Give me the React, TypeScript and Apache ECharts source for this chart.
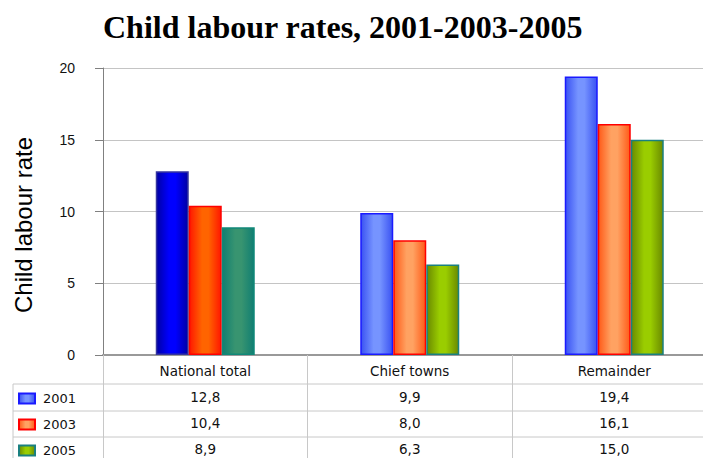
import React, { useEffect, useRef } from "react";
import * as echarts from "echarts";

const categories = ["National total", "Chief towns", "Remainder"];
const years = ["2001", "2003", "2005"];
const values2001 = [12.8, 9.9, 19.4];
const values2003 = [10.4, 8.0, 16.1];
const values2005 = [8.9, 6.3, 15.0];
const yTicks = { min: 0, max: 20, interval: 5 };
const yTitle = "Child labour rate";
const chartTitle = "Child labour rates, 2001-2003-2005";

const grad = (edge: string, mid: string) =>
  new echarts.graphic.LinearGradient(0, 0, 1, 0, [
    { offset: 0, color: edge },
    { offset: 0.4, color: mid },
    { offset: 0.6, color: mid },
    { offset: 1, color: edge },
  ]);

const fmt = (v: number) => v.toFixed(1).replace(".", ",");

export default function App() {
  const ref = useRef<HTMLDivElement>(null);
  useEffect(() => {
    if (!ref.current) return;
    const chart = echarts.init(ref.current, null, { renderer: "svg" });

    const styles = [
      {
        normal: { color: grad("#3a52f2", "#7694ff"), borderColor: "#1a1aff" },
        national: { color: grad("#0000a4", "#0000ff"), borderColor: "#3535a0" },
      },
      {
        normal: { color: grad("#ff5a18", "#ffa262"), borderColor: "#ff0000" },
        national: { color: grad("#ff1800", "#ff6400"), borderColor: "#ff0000" },
      },
      {
        normal: { color: grad("#6a8a00", "#9acd00"), borderColor: "#1a8080" },
        national: { color: grad("#107e72", "#389470"), borderColor: "#108878" },
      },
    ];
    const allValues = [values2001, values2003, values2005];

    const series = years.map((y, si) => ({
      type: "bar",
      name: y,
      barWidth: 33,
      barGap: "0%",
      itemStyle: { ...styles[si].normal, borderWidth: 1.5 },
      data: allValues[si].map((v, i) =>
        i === 0
          ? { value: v, itemStyle: { ...styles[si].national, borderWidth: 1.5 } }
          : v
      ),
    }));

    const lineStyle = { stroke: "#c8c8c8", lineWidth: 1 };
    const tableLines = [384, 411, 437].map((y) => ({
      type: "line",
      shape: { x1: 13, y1: y, x2: 703, y2: y },
      style: lineStyle,
      silent: true,
    }));

    chart.setOption({
      animation: false,
      backgroundColor: "#ffffff",
      title: {
        text: chartTitle,
        left: 98,
        top: 6,
        textStyle: {
          fontFamily: "Liberation Serif",
          fontWeight: "bold",
          fontSize: 32,
          color: "#000",
        },
      },
      legend: {
        orient: "vertical",
        left: 18,
        top: 392,
        height: 100,
        padding: 0,
        itemWidth: 16,
        itemHeight: 10,
        itemGap: 13,
        icon: "rect",
        data: years,
        textStyle: {
          fontFamily: "DejaVu Sans",
          fontSize: 13,
          color: "#111",
          padding: [0, 0, 0, 3],
        },
      },
      grid: {
        left: 103,
        top: 68,
        height: 287,
        width: 613.5,
        outerBoundsMode: "none",
        containLabel: false,
      },
      xAxis: {
        type: "category",
        data: categories,
        axisLine: { lineStyle: { color: "#999", width: 2 } },
        axisTick: {
          show: true,
          length: 103,
          lineStyle: { color: "#c8c8c8", width: 1 },
        },
        axisLabel: {
          margin: 3,
          interval: 0,
          lineHeight: 26,
          fontFamily: "DejaVu Sans",
          fontSize: 13.5,
          color: "#111",
          formatter: (name: string, idx: number) =>
            [name, fmt(values2001[idx]), fmt(values2003[idx]), fmt(values2005[idx])].join("\n"),
        },
      },
      yAxis: {
        type: "value",
        min: yTicks.min,
        max: yTicks.max,
        interval: yTicks.interval,
        axisLine: { show: true, lineStyle: { color: "#808080", width: 1 } },
        axisTick: { show: true, length: 8, lineStyle: { color: "#808080" } },
        axisLabel: {
          margin: 28,
          fontFamily: "Liberation Sans",
          fontSize: 14,
          color: "#111",
        },
        splitLine: { lineStyle: { color: "#c4c4c4", width: 1 } },
      },
      graphic: [
        ...tableLines,
        {
          type: "line",
          shape: { x1: 13, y1: 384, x2: 13, y2: 458 },
          style: lineStyle,
          silent: true,
        },
        {
          type: "text",
          x: 23,
          y: 225,
          rotation: Math.PI / 2,
          style: {
            text: yTitle,
            fontFamily: "Liberation Sans",
            fontSize: 24,
            fill: "#000",
            align: "center",
            verticalAlign: "middle",
          },
        },
      ],
      series,
    });
    return () => chart.dispose();
  }, []);
  return (
    <div
      ref={ref}
      style={{ position: "fixed", left: 0, top: 0, width: 703, height: 458 }}
    />
  );
}
